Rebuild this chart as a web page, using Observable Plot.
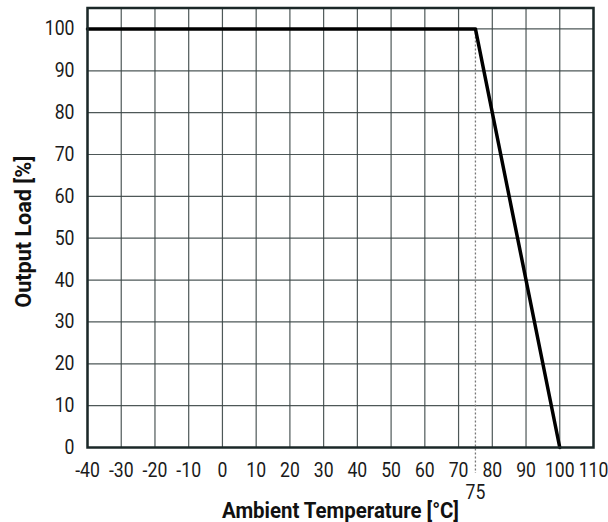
<!DOCTYPE html>
<html>
<head>
<meta charset="utf-8">
<script src="https://cdn.jsdelivr.net/npm/d3@7"></script>
<script src="https://cdn.jsdelivr.net/npm/@observablehq/plot@0.6"></script>
<style>
  html, body { margin: 0; padding: 0; background: #fff; }
  #chart svg { display: block; }
</style>
</head>
<body>
<div id="chart"></div>
<script>
// Derating curve data
const temperatures = [-40, 75, 100];   // °C
const loads = [100, 100, 0];           // % output load
const xTicks = [-40, -30, -20, -10, 0, 10, 20, 30, 40, 50, 60, 70, 80, 90, 100, 110];
const yTicks = [0, 10, 20, 30, 40, 50, 60, 70, 80, 90, 100];
const markerTemp = [75];
const xTitle = "Ambient Temperature [°C]";
const yTitle = "Output Load [%]";

const curve = temperatures.map((t, i) => ({t, load: loads[i]}));
const font = 'Roboto, "Liberation Sans", sans-serif';
const fmt = d => String(d);
const tickFont = 20.5;

const chart = Plot.plot({
  width: 608,
  height: 522,
  marginTop: 7.5,
  marginBottom: 75,
  marginLeft: 87,
  marginRight: 15,
  x: {domain: [-40, 110]},
  y: {domain: [0, 105]},
  style: {fontFamily: font, fontSize: tickFont + "px", color: "#222", background: "#fff", overflow: "visible"},
  marks: [
    Plot.gridX(xTicks, {stroke: "#3b4646", strokeOpacity: 0.9, strokeWidth: 1.2}),
    Plot.gridY(yTicks, {stroke: "#3b4646", strokeOpacity: 0.9, strokeWidth: 1.2}),
    Plot.ruleX(markerTemp, {y1: 100, y2: 0, insetBottom: -26, stroke: "#777", strokeWidth: 1.3, strokeDasharray: "2,2", clip: false}),
    Plot.line(curve, {x: "t", y: "load", stroke: "#000", strokeWidth: 3.5}),
    Plot.frame({stroke: "#1b2828", strokeWidth: 2.5}),
    Plot.axisX(xTicks, {tickSize: 0, tickPadding: 15, label: null, tickFormat: fmt, fontSize: tickFont, fontWeight: 400, fill: "#1a1a1a"}),
    Plot.axisX(markerTemp, {tickSize: 0, tickPadding: 37, label: null, tickFormat: fmt, fontSize: tickFont, fontWeight: 400, fill: "#1a1a1a"}),
    Plot.axisY(yTicks, {tickSize: 0, tickPadding: 13, label: null, tickFormat: fmt, fontSize: tickFont, fontWeight: 400, fill: "#1a1a1a"}),
    Plot.text([xTitle], {text: d => d, frameAnchor: "bottom", textAnchor: "middle", lineAnchor: "middle", dy: 63, fontWeight: "bold", fontSize: 22, fill: "#111", className: "xtitle"}),
    Plot.text([yTitle], {text: d => d, frameAnchor: "left", textAnchor: "middle", lineAnchor: "middle", dx: -64, dy: 4, rotate: -90, fontWeight: "bold", fontSize: 22, fill: "#111", className: "ytitle"})
  ]
});
document.getElementById("chart").appendChild(chart);

// condense the text to the reference's narrow typeface proportions
const svg = d3.select(chart);
svg.select(".xtitle text").attr("textLength", 237).attr("lengthAdjust", "spacingAndGlyphs");
svg.select(".ytitle text").attr("textLength", 152).attr("lengthAdjust", "spacingAndGlyphs");
svg.selectAll("text").filter(function () {
  return !this.closest(".xtitle") && !this.closest(".ytitle");
}).each(function () {
  const w = this.getComputedTextLength();
  if (w > 0) {
    this.setAttribute("textLength", (w * 0.86).toFixed(1));
    this.setAttribute("lengthAdjust", "spacingAndGlyphs");
  }
});
</script>
</body>
</html>
